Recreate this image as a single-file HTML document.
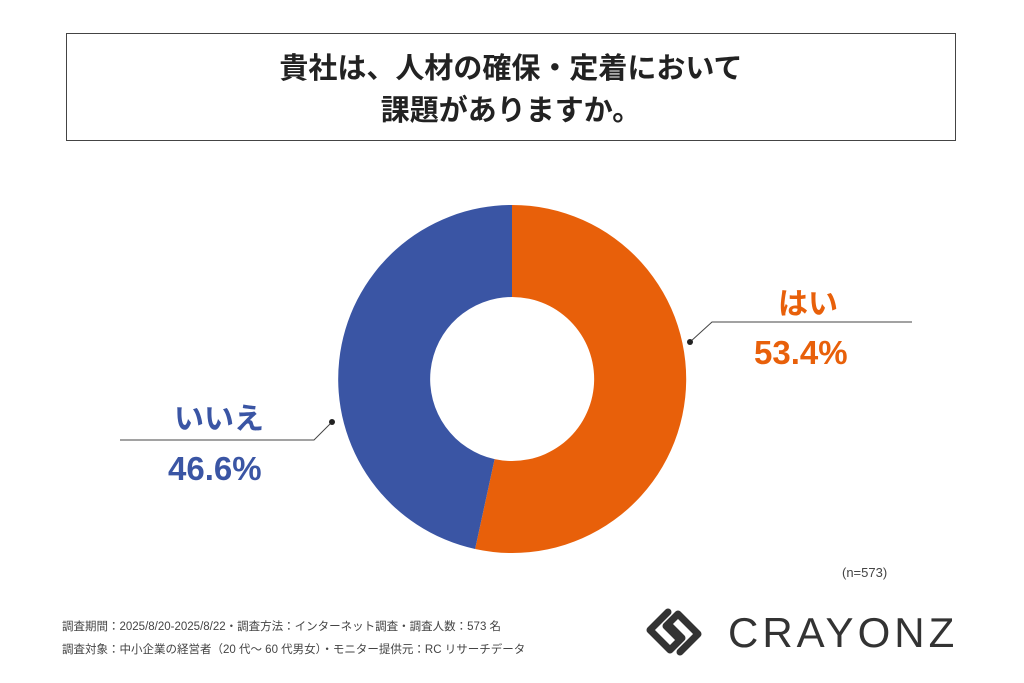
<!DOCTYPE html>
<html><head><meta charset="utf-8"><style>
body{margin:0;width:1024px;height:683px;background:#fff;position:relative;overflow:hidden;font-family:"Liberation Sans","Noto Sans CJK JP",sans-serif;color:#222}
.t{position:absolute;left:66px;top:33px;width:890px;height:108px;border:1.5px solid #444;box-sizing:border-box;text-align:center;font-weight:bold;font-size:29px;line-height:42px;padding-top:14px}
.a{position:absolute;font-weight:bold}
</style></head><body>
<div class="t">貴社は、人材の確保・定着において<br>課題がありますか。</div>
<svg width="1024" height="683" style="position:absolute;left:0;top:0">
<path d="M512 205 A174 174 0 1 1 475.1 549.0 L494.6 459.1 A82 82 0 1 0 512 297 Z" fill="#E8600A"/>
<path d="M475.1 549.0 A174 174 0 0 1 512 205 L512 297 A82 82 0 0 0 494.6 459.1 Z" fill="#3A55A4"/>
<polyline points="690,342 712,322 912,322" fill="none" stroke="#444" stroke-width="1"/>
<circle cx="690" cy="342" r="3" fill="#222"/>
<polyline points="332,422 314,440 120,440" fill="none" stroke="#444" stroke-width="1"/>
<circle cx="332" cy="422" r="3" fill="#222"/>
<g transform="translate(674,632)" fill="none" stroke="#333" stroke-width="7" stroke-linejoin="round" stroke-linecap="round">
<path d="M-6 -20 L-24 -2 L-4 18 L8 6 L-4 -6"/>
<path d="M6 20 L24 2 L4 -18 L-8 -6 L4 6"/>
</g>
</svg>
<div class="a" style="left:778px;top:279px;font-size:30px;color:#E8600A">はい</div>
<div class="a" style="left:754px;top:334px;font-size:33px;color:#E8600A">53.4%</div>
<div class="a" style="left:174px;top:394px;font-size:30px;color:#3A55A4">いいえ</div>
<div class="a" style="left:168px;top:450px;font-size:33px;color:#3A55A4">46.6%</div>
<div style="position:absolute;left:842px;top:565px;font-size:13px;color:#444">(n=573)</div>
<div style="position:absolute;left:62px;top:616px;font-size:11.5px;color:#444;line-height:23px">調査期間：2025/8/20-2025/8/22・調査方法：インターネット調査・調査人数：573 名<br>調査対象：中小企業の経営者（20 代～ 60 代男女）・モニター提供元：RC リサーチデータ</div>
<div style="position:absolute;left:728px;top:609px;font-size:42px;letter-spacing:4px;color:#333">CRAYONZ</div>
</body></html>
